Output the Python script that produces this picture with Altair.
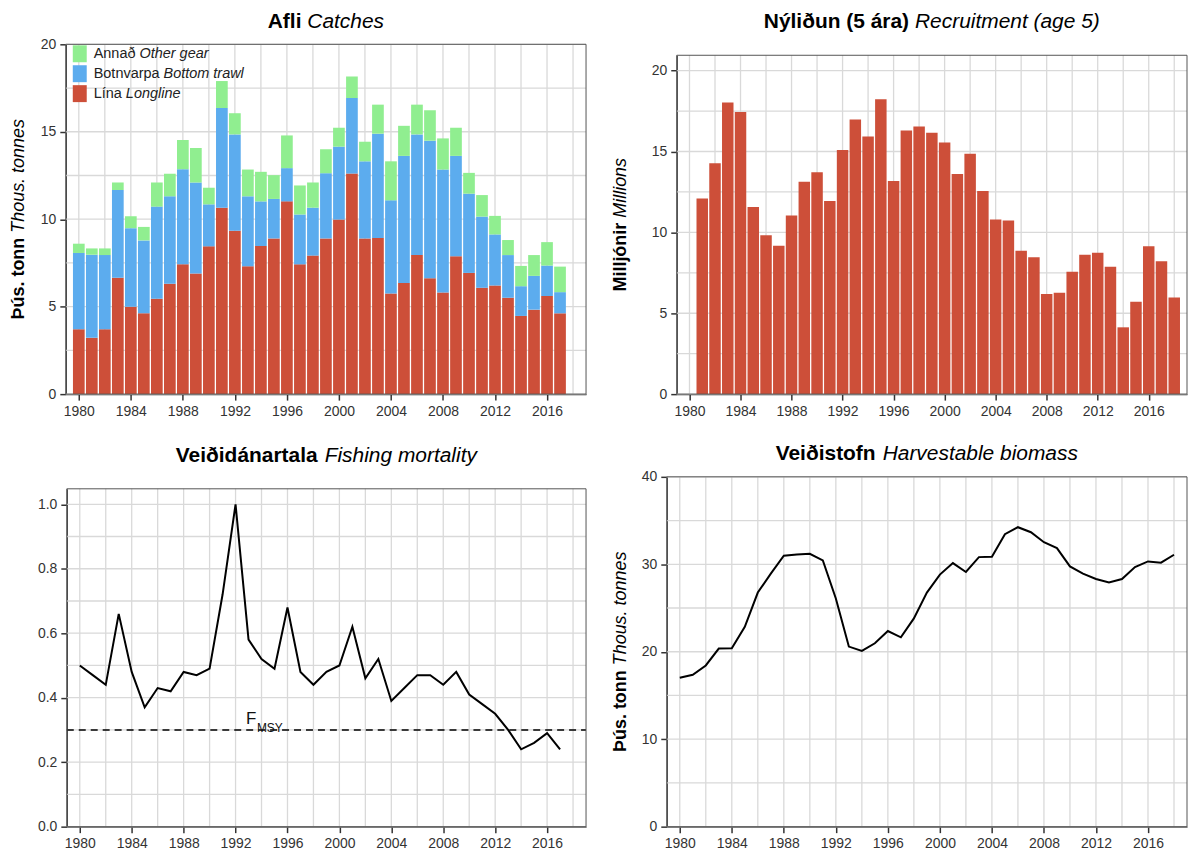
import altair as alt
import pandas as pd

# ---------------- data ----------------
years_catch = list(range(1980, 2018))
longline = [3.71, 3.22, 3.71, 6.65, 5.00, 4.62, 5.45, 6.31, 7.42, 6.89, 8.45, 10.66, 9.34, 7.31, 8.47, 8.90,
            11.02, 7.42, 7.92, 8.90, 9.98, 12.61, 8.90, 8.92, 5.76, 6.36, 7.95, 6.63, 5.81, 7.88, 6.93, 6.08,
            6.21, 5.51, 4.47, 4.83, 5.61, 4.62]
trawl = [4.36, 4.75, 4.24, 5.02, 4.49, 4.17, 5.27, 5.00, 5.44, 5.21, 2.40, 5.70, 5.51, 4.00, 2.55, 2.26,
         1.90, 2.85, 2.74, 3.73, 4.17, 4.32, 4.41, 5.97, 5.32, 7.26, 6.90, 7.86, 7.03, 5.74, 4.53, 4.07,
         2.92, 2.44, 1.70, 1.93, 1.74, 1.21]
other = [0.53, 0.36, 0.38, 0.43, 0.68, 0.77, 1.38, 1.29, 1.67, 1.97, 0.95, 1.54, 1.21, 1.53, 1.69, 1.36,
         1.87, 1.66, 1.44, 1.37, 1.08, 1.23, 1.12, 1.66, 2.23, 1.72, 1.70, 1.74, 1.78, 1.61, 1.19, 1.23,
         1.06, 0.86, 1.16, 1.19, 1.34, 1.46]

years_rec = list(range(1981, 2019))
recruitment = [12.09, 14.27, 18.03, 17.45, 11.57, 9.83, 9.17, 11.04, 13.13, 13.71, 11.94, 15.09, 16.98,
               15.93, 18.23, 13.18, 16.30, 16.55, 16.16, 15.56, 13.61, 14.86, 12.56, 10.79, 10.73, 8.86,
               8.47, 6.19, 6.27, 7.56, 8.61, 8.74, 7.87, 4.13, 5.71, 9.15, 8.22, 5.98]

years_f = list(range(1980, 2018))
fishing_mortality = [0.50, 0.47, 0.44, 0.66, 0.48, 0.37, 0.43, 0.42, 0.48, 0.47, 0.49, 0.72, 1.00, 0.58,
                     0.52, 0.49, 0.68, 0.48, 0.44, 0.48, 0.50, 0.62, 0.46, 0.52, 0.39, 0.43, 0.47, 0.47,
                     0.44, 0.48, 0.41, 0.38, 0.35, 0.30, 0.24, 0.26, 0.29, 0.24]
fmsy = 0.30
fmsy_label_year = 1992.8

years_bio = list(range(1980, 2019))
biomass = [17.02, 17.37, 18.43, 20.36, 20.40, 22.86, 26.77, 28.93, 30.98, 31.13, 31.20, 30.44, 26.09,
           20.59, 20.09, 20.97, 22.37, 21.65, 23.81, 26.77, 28.82, 30.14, 29.12, 30.82, 30.86, 33.44,
           34.24, 33.67, 32.53, 31.85, 29.76, 28.93, 28.32, 27.91, 28.32, 29.69, 30.33, 30.18, 31.09]

gear_bold = ["Annað", "Botnvarpa", "Lína"]
gear_italic = ["Other gear", "Bottom trawl", "Longline"]
gear_colors = ["#90EE90", "#5CACEE", "#CD4F39"]

x_ticks = list(range(1980, 2017, 4))
x_grid = list(range(1980, 2019, 2))

FONT = "Liberation Sans"
TITLE_SIZE = 21
YTITLE_SIZE = 18
LEG_SIZE = 14.5
GRID_COLOR = "#d9d9d9"
FRAME_COLOR = "#555555"

# ---------------- text width helper (Arial metrics) ----------------
REG = {' ': 278, '(': 333, ')': 333, '.': 278, 'A': 667, 'B': 667, 'C': 722, 'F': 611, 'H': 722, 'L': 556,
       'M': 833, 'O': 778, 'R': 722, 'S': 667, 'T': 611, 'Y': 667, 'a': 556, 'b': 556, 'c': 500, 'd': 556,
       'e': 556, 'f': 278, 'g': 556, 'h': 556, 'i': 222, 'j': 222, 'k': 500, 'l': 222, 'm': 833, 'n': 556,
       'o': 556, 'p': 556, 'r': 333, 's': 500, 't': 278, 'u': 556, 'v': 500, 'w': 722, 'y': 500,
       'ð': 556, 'á': 556, 'í': 278, 'ó': 556, 'ú': 556, 'ý': 500, 'Þ': 667}
BOLD = {' ': 278, '(': 333, ')': 333, '.': 278, 'A': 722, 'M': 833, 'N': 722, 'V': 667, 'Þ': 667,
        'a': 556, 'd': 611, 'f': 333, 'i': 278, 'j': 278, 'l': 278, 'n': 611, 'o': 611, 'r': 389,
        's': 556, 't': 333, 'u': 611, 'ð': 611, 'á': 556, 'ó': 611, 'ú': 611, 'ý': 556}


def tw(s, size, bold=False):
    table = BOLD if bold else REG
    return sum(table.get(c, 556) for c in s) * size / 1000.0


def txt(s, x, y, size, bold=False, italic=False, angle=0, color="black", align="left", baseline="middle"):
    kw = dict(font=FONT, fontSize=size, align=align, baseline=baseline, color=color,
              fontWeight="bold" if bold else "normal", fontStyle="italic" if italic else "normal")
    if angle:
        kw["angle"] = angle
    return alt.Chart(pd.DataFrame({"t": [s]})).mark_text(**kw).encode(
        text="t:N", x=alt.value(x), y=alt.value(y))


def title_layers(bold, ital, cx, cy):
    wb = tw(bold, TITLE_SIZE, True)
    ws = tw(" ", TITLE_SIZE)
    wi = tw(ital, TITLE_SIZE)
    x0 = cx - (wb + ws + wi) / 2
    return [txt(bold, x0, cy, TITLE_SIZE, bold=True),
            txt(ital, x0 + wb + ws, cy, TITLE_SIZE, italic=True)]


def ytitle_layers(bold, ital, cx, cy, color="black"):
    wb = tw(bold, YTITLE_SIZE, True)
    ws = tw(" ", YTITLE_SIZE)
    wi = tw(ital, YTITLE_SIZE)
    y0 = cy + (wb + ws + wi) / 2
    return [txt(bold, cx, y0, YTITLE_SIZE, bold=True, angle=270, color=color),
            txt(ital, cx, y0 - wb - ws, YTITLE_SIZE, italic=True, angle=270, color=color)]


W, H = 522, 351  # group size of every panel


def make_scales(left, top, ydom, yvals, yfmt=None):
    xs = alt.Scale(domain=[1979, 2019], range=[left, W], nice=False, zero=False)
    ys = alt.Scale(domain=ydom, range=[H, top], nice=False, zero=False)
    xax = alt.Axis(values=x_ticks, format="d", title=None, grid=False)
    yk = dict(values=yvals, title=None, grid=False, offset=-left)
    if yfmt:
        yk["format"] = yfmt
    yax = alt.Axis(**yk)
    return xs, ys, xax, yax


def base_layers(left, top, ygrid, xs, ys, xax, yax):
    gx = alt.Chart(pd.DataFrame({"g": x_grid})).mark_rule(color=GRID_COLOR, strokeWidth=1.3).encode(
        x=alt.X("g:Q", scale=xs, axis=xax), y=alt.value(top), y2=alt.value(H))
    gy = alt.Chart(pd.DataFrame({"g": ygrid})).mark_rule(color=GRID_COLOR, strokeWidth=1.3).encode(
        y=alt.Y("g:Q", scale=ys, axis=yax), x=alt.value(left), x2=alt.value(W))
    return [gx, gy]


def frame_layer(left, top):
    return alt.Chart(pd.DataFrame({"f": [0]})).mark_rect(
        fillOpacity=0, stroke=FRAME_COLOR, strokeWidth=1).encode(
        x=alt.value(left), x2=alt.value(W), y=alt.value(top), y2=alt.value(H))


# ---------------- panel 1: catches ----------------
L1, T1 = 0, 0
xs1, ys1, xax1, yax1 = make_scales(L1, T1, [0, 20], [0, 5, 10, 15, 20])
rows = []
for i, yr in enumerate(years_catch):
    rows.append({"year": yr, "gear": "Lína", "order": 0, "value": longline[i]})
    rows.append({"year": yr, "gear": "Botnvarpa", "order": 1, "value": trawl[i]})
    rows.append({"year": yr, "gear": "Annað", "order": 2, "value": other[i]})
df_catch = pd.DataFrame(rows)

bars1 = alt.Chart(df_catch).transform_stack(
    stack="value", as_=["y0", "y1"], groupby=["year"], sort=[alt.SortField("order", order="ascending")]
).transform_calculate(x0="datum.year - 0.45", x1="datum.year + 0.45").mark_bar().encode(
    x=alt.X("x0:Q", scale=xs1, axis=xax1), x2="x1:Q",
    y=alt.Y("y0:Q", scale=ys1, axis=yax1), y2="y1:Q",
    color=alt.Color("gear:N", scale=alt.Scale(domain=gear_bold, range=gear_colors), legend=None))

legend_layers = []
for i, (gb, gi, col) in enumerate(zip(gear_bold, gear_italic, gear_colors)):
    top = 1 + 20 * i
    legend_layers.append(
        alt.Chart(pd.DataFrame({"g": [gb]})).mark_rect(color=col).encode(
            x=alt.value(7), x2=alt.value(21), y=alt.value(top), y2=alt.value(top + 17)))
    legend_layers.append(txt(gb, 28, top + 8.5, LEG_SIZE, color="#222"))
    legend_layers.append(txt(gi, 28 + tw(gb + " ", LEG_SIZE), top + 8.5, LEG_SIZE, italic=True, color="#222"))

p1 = alt.layer(
    *base_layers(L1, T1, [2.5 * k for k in range(9)], xs1, ys1, xax1, yax1), bars1, *legend_layers,
    frame_layer(L1, T1),
    *title_layers("Afli", "Catches", (L1 + W) / 2, -22),
    *ytitle_layers("Þús. tonn", "Thous. tonnes", -47, H / 2),
).properties(width=W, height=H)

# ---------------- panel 2: recruitment ----------------
L2, T2 = 10, 11
xs2, ys2, xax2, yax2 = make_scales(L2, T2, [0, 20.95], [0, 5, 10, 15, 20])
df_rec = pd.DataFrame({"year": years_rec, "value": recruitment})
bars2 = alt.Chart(df_rec).transform_calculate(
    x0="datum.year - 0.45", x1="datum.year + 0.45", base="0").mark_bar(color="#CD4F39").encode(
    x=alt.X("x0:Q", scale=xs2, axis=xax2), x2="x1:Q",
    y=alt.Y("value:Q", scale=ys2, axis=yax2), y2="base:Q")
p2 = alt.layer(
    *base_layers(L2, T2, [2.5 * k for k in range(9)], xs2, ys2, xax2, yax2), bars2,
    frame_layer(L2, T2),
    *title_layers("Nýliðun (5 ára)", "Recruitment (age 5)", (L2 + W) / 2, -22),
    *ytitle_layers("Milljónir", "Millions", -46, (T2 + H) / 2),
).properties(width=W, height=H)

# ---------------- panel 3: fishing mortality ----------------
L3, T3 = 1, 12
xs3, ys3, xax3, yax3 = make_scales(L3, T3, [0, 1.048], [0, 0.2, 0.4, 0.6, 0.8, 1.0], ".1f")
df_f = pd.DataFrame({"year": years_f, "value": fishing_mortality})
line3 = alt.Chart(df_f).mark_line(color="black", strokeWidth=2).encode(
    x=alt.X("year:Q", scale=xs3, axis=xax3), y=alt.Y("value:Q", scale=ys3, axis=yax3))
fm = alt.Chart(pd.DataFrame({"f": [fmsy]})).mark_rule(color="black", strokeWidth=1.5, strokeDash=[7, 5]).encode(
    y=alt.Y("f:Q", scale=ys3, axis=yax3), x=alt.value(L3), x2=alt.value(W))
df_lab = pd.DataFrame({"x": [fmsy_label_year], "y": [fmsy], "F": ["F"], "s": ["MSY"]})
lab_f = alt.Chart(df_lab).mark_text(font=FONT, fontSize=17, align="left", baseline="alphabetic", dy=-6,
                                    color="#111").encode(
    x=alt.X("x:Q", scale=xs3, axis=xax3), y=alt.Y("y:Q", scale=ys3, axis=yax3), text="F:N")
lab_s = alt.Chart(df_lab).mark_text(font=FONT, fontSize=12, align="left", baseline="alphabetic", dy=2, dx=11,
                                    color="#111").encode(
    x=alt.X("x:Q", scale=xs3, axis=xax3), y=alt.Y("y:Q", scale=ys3, axis=yax3), text="s:N")
p3 = alt.layer(
    *base_layers(L3, T3, [0.1 * k for k in range(11)], xs3, ys3, xax3, yax3), fm, line3, lab_f, lab_s,
    frame_layer(L3, T3),
    *title_layers("Veiðidánartala", "Fishing mortality", (L3 + W) / 2, -21),
    *ytitle_layers("Þús. tonn", "Thous. tonnes", -47, H / 2, color="white"),
).properties(width=W, height=H)

# ---------------- panel 4: biomass ----------------
L4, T4 = 0, 0
xs4, ys4, xax4, yax4 = make_scales(L4, T4, [0, 40], [0, 10, 20, 30, 40])
df_b = pd.DataFrame({"year": years_bio, "value": biomass})
line4 = alt.Chart(df_b).mark_line(color="black", strokeWidth=2).encode(
    x=alt.X("year:Q", scale=xs4, axis=xax4), y=alt.Y("value:Q", scale=ys4, axis=yax4))
p4 = alt.layer(
    *base_layers(L4, T4, [5 * k for k in range(9)], xs4, ys4, xax4, yax4), line4,
    frame_layer(L4, T4),
    *title_layers("Veiðistofn", "Harvestable biomass", (L4 + W) / 2, -23),
    *ytitle_layers("Þús. tonn", "Thous. tonnes", -46, H / 2),
).properties(width=W, height=H)

chart = alt.concat(p1, p2, p3, p4, columns=2, spacing={"row": 25, "column": 25}).properties(
    align="each", padding={"left": 2, "top": 2, "right": 0, "bottom": 0}
).configure_view(stroke=None).configure_axis(
    labelFont=FONT, labelFontSize=14, labelColor="#333", tickColor="#333", domainColor="#333",
    tickSize=6, tickWidth=1.5, domainWidth=1.2, labelPadding=4
)

chart.save("out.html", embed_options={"renderer": "svg", "actions": False})
